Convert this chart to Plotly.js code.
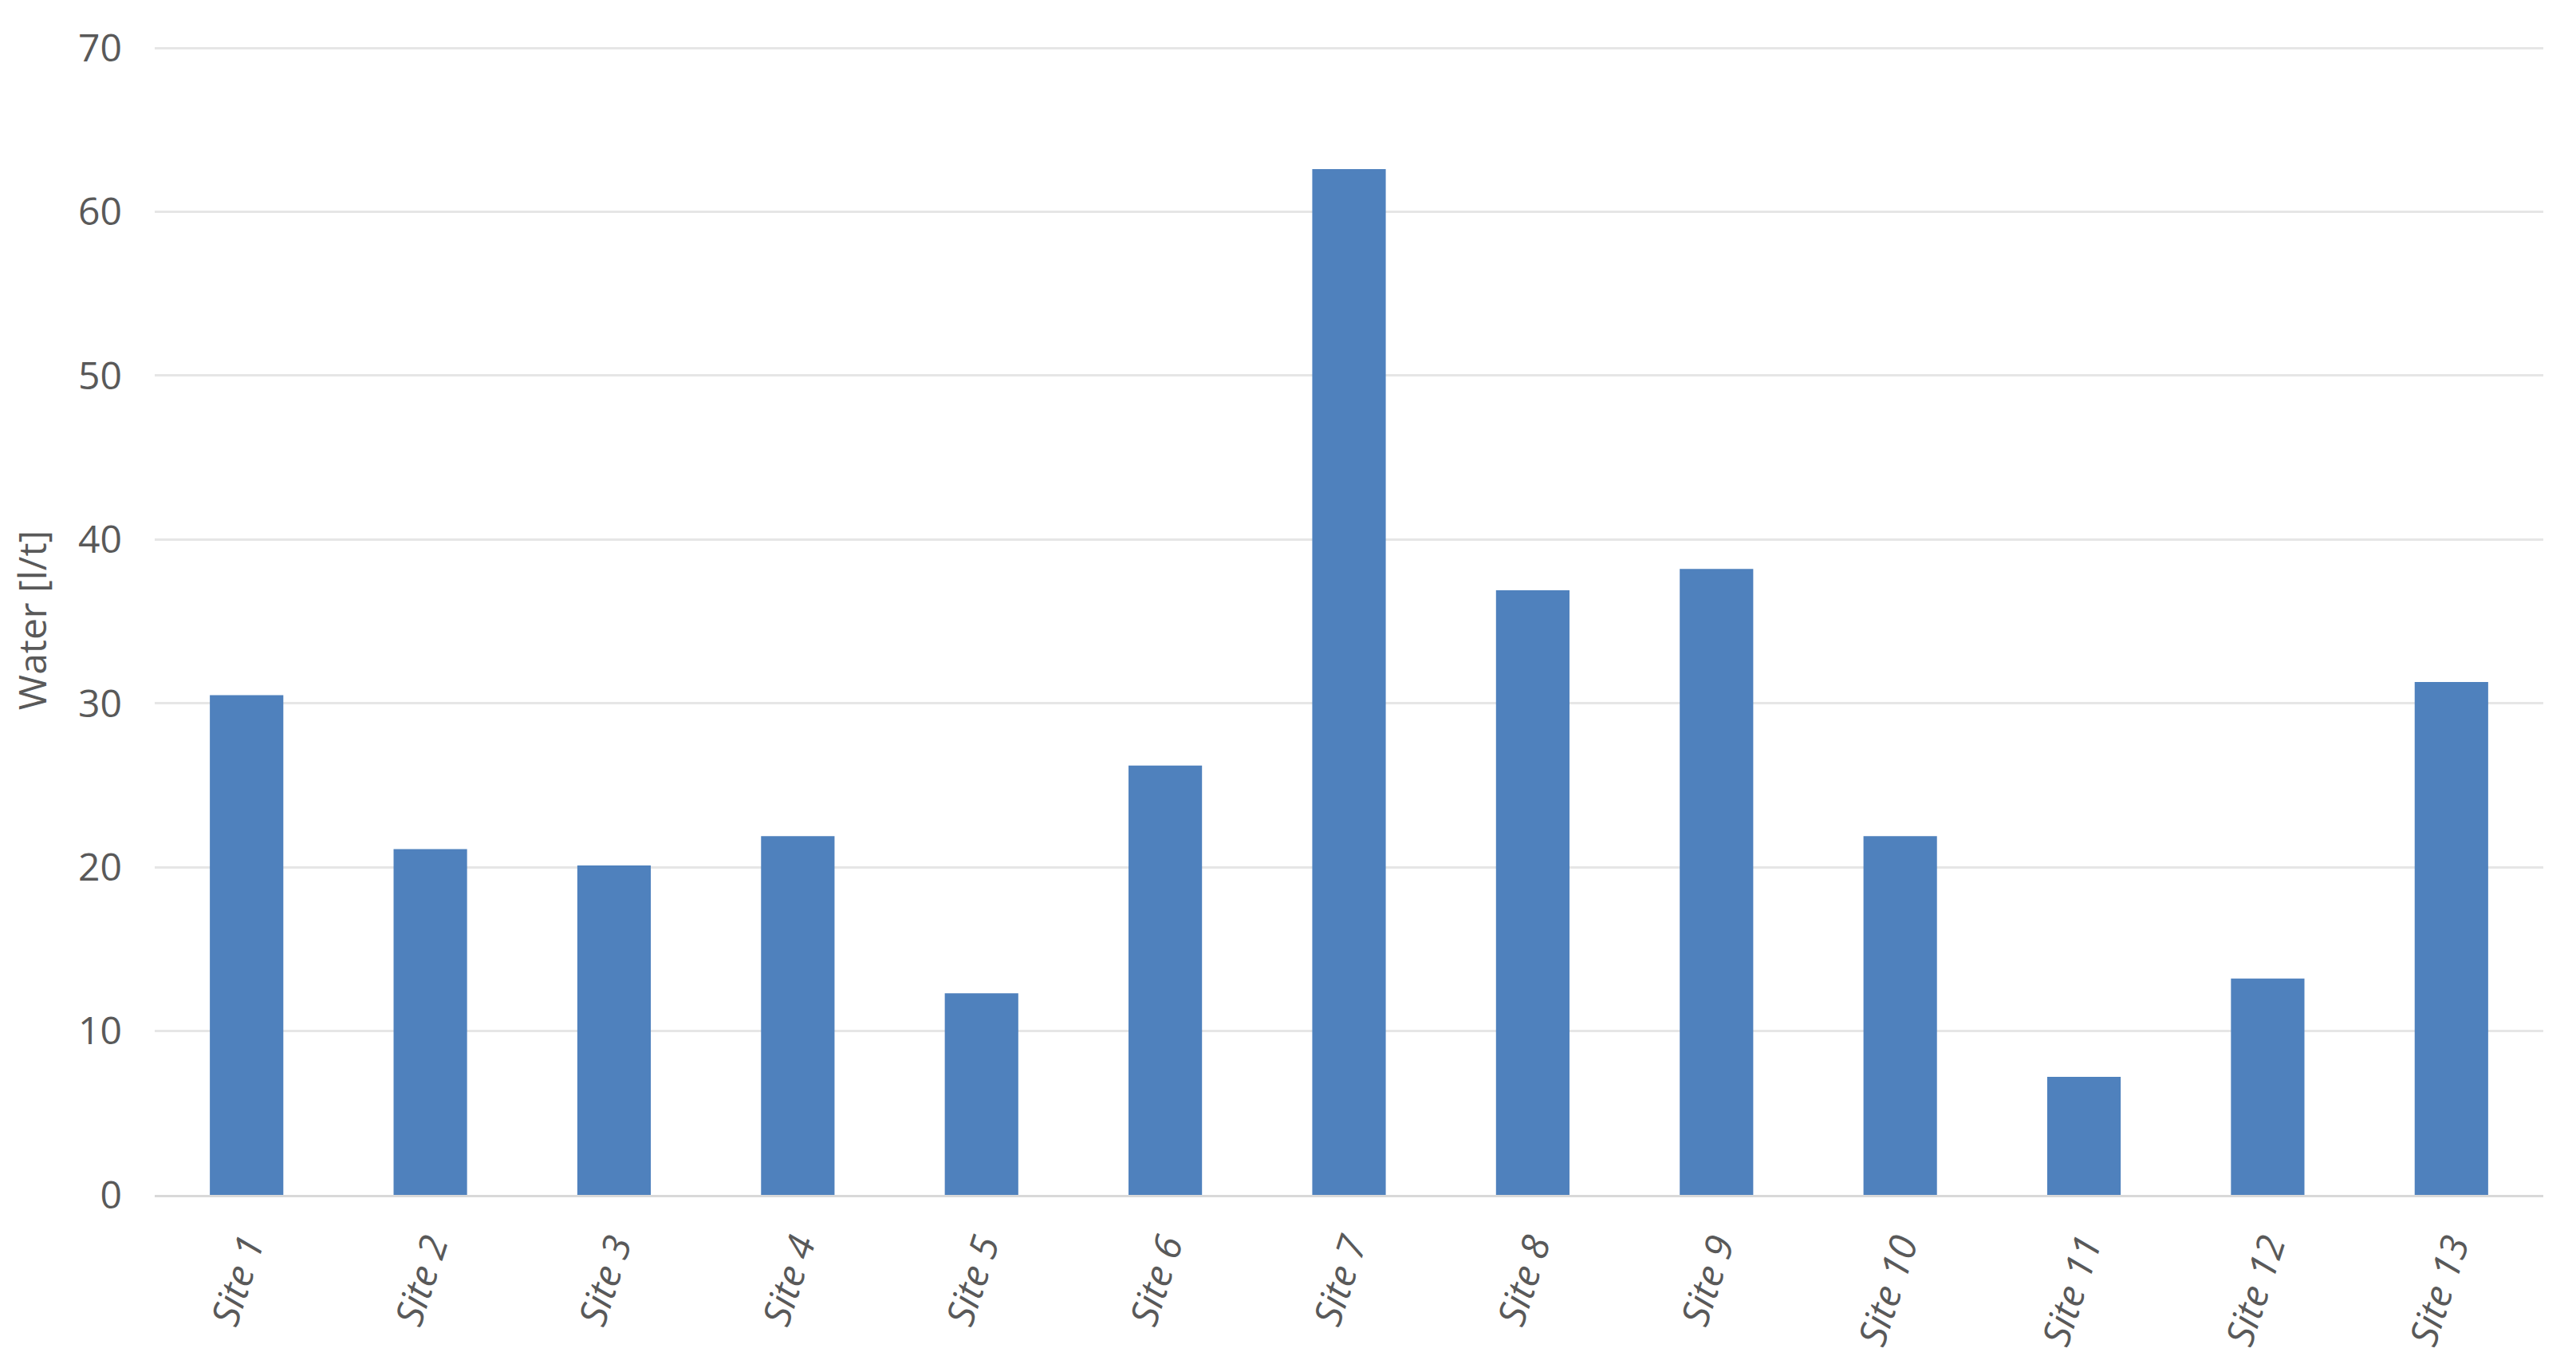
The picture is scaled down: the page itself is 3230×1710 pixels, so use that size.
<!DOCTYPE html>
<html>
<head>
<meta charset="utf-8">
<script src="https://cdn.plot.ly/plotly-3.0.1.min.js"></script>
<style>
  html, body { margin: 0; padding: 0; background: #fff; }
  #chart { width: 3230px; height: 1710px; }
</style>
</head>
<body>
<div id="chart"></div>
<script>
// Sites along the x axis
const sites = ['Site 1', 'Site 2', 'Site 3', 'Site 4', 'Site 5', 'Site 6', 'Site 7',
               'Site 8', 'Site 9', 'Site 10', 'Site 11', 'Site 12', 'Site 13'];
// Water use per site
const water = [30.5, 21.1, 20.1, 21.9, 12.3, 26.2, 62.6, 36.9, 38.2, 21.9, 7.2, 13.2, 31.3];
// Y axis ticks
const yTicks = [0, 10, 20, 30, 40, 50, 60, 70];

const labelColor = '#595959';
const tickFont = { family: 'Open Sans, sans-serif', size: 48, color: labelColor };

const data = [{
    x: sites,
    y: water,
    type: 'bar',
    width: 0.4,
    marker: { color: '#4f81bd' },
    hoverinfo: 'x+y'
}];

const layout = {
    width: 3230,
    height: 1710,
    margin: { l: 194, r: 41, t: 57, b: 212 },
    paper_bgcolor: '#ffffff',
    plot_bgcolor: '#ffffff',
    showlegend: false,
    xaxis: {
        type: 'category',
        tickangle: -72,
        tickfont: { family: 'Open Sans, sans-serif', size: 48, color: labelColor, style: 'italic' },
        ticklabelstandoff: 14,
        showgrid: false,
        showline: true,
        linecolor: '#d9d9d9',
        linewidth: 3,
        ticks: '',
        zeroline: false
    },
    yaxis: {
        // a hair above 70 so the top gridline is still drawn
        range: [0, 70.15],
        tickvals: yTicks,
        tickfont: tickFont,
        ticklabelstandoff: 40,
        showgrid: true,
        gridcolor: '#e6e6e6',
        gridwidth: 3,
        zeroline: false,
        showline: false,
        ticks: '',
        automargin: true,
        title: {
            text: 'Water [l/t]',
            standoff: 24,
            font: { family: 'Open Sans, sans-serif', size: 48, color: labelColor }
        }
    }
};

Plotly.newPlot('chart', data, layout, { displayModeBar: false, staticPlot: true });
</script>
</body>
</html>
